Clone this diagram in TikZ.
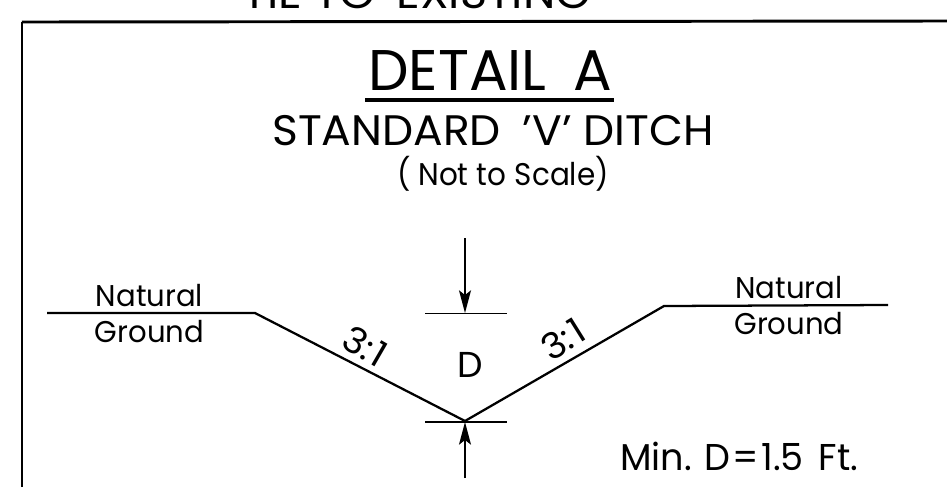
\documentclass[tikz,border=0pt]{standalone}
\usepackage{fontspec}
\setmainfont{Poppins}
\usetikzlibrary{arrows.meta}
\tikzset{
  txt/.style={inner sep=0pt,anchor=base,text=black},
  lab/.style={txt,font=\fontsize{22.5}{23}\selectfont},
  big/.style={txt,font=\fontsize{27}{27}\selectfont},
  ground/.style={line width=1.7pt,line join=miter},
  ext/.style={line width=1.2pt},
  dim/.style={line width=1pt,-{Stealth[length=17pt,width=9pt,inset=3.5pt]}}
}
\newcommand{\nar}[2]{\scalebox{#1}[1]{#2}}
\begin{document}
\begin{tikzpicture}[x=0.75pt,y=-0.75pt]
\useasboundingbox (0,0) rectangle (947,487);
\clip (0,0) rectangle (947,487);
\fill[white] (0,0) rectangle (947,487);
\coordinate (fbl) at (22,487);
\coordinate (ftl) at (22,22);
\coordinate (ftr) at (947,21);
\draw[line width=1.2pt] (fbl) -- (ftl);
\draw[line width=2.2pt] (ftl) -- (ftr);
\node[txt,font=\fontsize{32}{32}\selectfont] (tie) at (417,8) {\nar{1.08}{TIE TO\hspace{0.45em}EXISTING}};
\node[txt,font=\fontsize{43}{43}\selectfont] (title) at (490,90) {\nar{1.0}{DETAIL\hspace{0.2em} A}};
\coordinate (ul) at (365,100);
\coordinate (ur) at (614,100);
\draw[line width=2.3pt] (ul) -- (ur);
\node[txt,font=\fontsize{32}{32}\selectfont] (sub) at (493,145) {\nar{1.03}{STANDARD\hspace{0.5em}'V' DITCH}};
\node[txt,font=\fontsize{23.5}{24}\selectfont] (ns) at (503,185) {\nar{0.94}{( Not to\hspace{0.3em}Scale)}};
\coordinate (a) at (47,313);
\coordinate (b) at (255,313);
\coordinate (v) at (465,421);
\coordinate (c) at (664,306);
\coordinate (d) at (888,305);
\draw[ground] (a) -- (b) -- (v) -- (c) -- (d);
\node[lab] (ng1) at (149.5,306) {\nar{0.97}{Natural}};
\node[lab] (ng2) at (149.5,342) {\nar{0.97}{Ground}};
\node[lab] (ng3) at (789,298) {\nar{0.97}{Natural}};
\node[lab] (ng4) at (789,334) {\nar{0.97}{Ground}};
\node[big,anchor=center,rotate=-30] (s1) at (365,346) {\nar{1.05}{3:\hspace{0.06em}1}};
\node[big,anchor=center,rotate=32] (s2) at (563,339) {\nar{1.05}{3:\hspace{0.06em}1}};
\node[big] (dd) at (470,377) {D};
\coordinate (t1) at (425,313.5);
\coordinate (t2) at (507,313.5);
\coordinate (b1) at (425,422);
\coordinate (b2) at (507,422);
\draw[ext] (t1) -- (t2);
\draw[ext] (b1) -- (b2);
\coordinate (tm) at (465,313);
\coordinate (tt) at (465,238);
\coordinate (bm) at (465,422);
\coordinate (bb) at (465,478);
\draw[dim] (tt) -- (tm);
\draw[dim] (bb) -- (bm);
\node[txt,font=\fontsize{28}{28}\selectfont,anchor=base west] (min) at (620,470) {\nar{0.98}{Min. D\hspace{0.06em}=\hspace{0.06em}1.5\hspace{0.4em}Ft.}};
\end{tikzpicture}
\end{document}
